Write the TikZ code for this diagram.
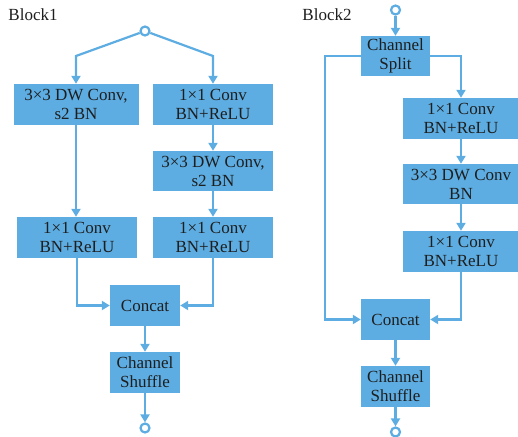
\documentclass[tikz,border=0pt]{standalone}
\usepackage{fontspec}
\setmainfont{Liberation Serif}
\usetikzlibrary{arrows.meta}
\definecolor{boxblue}{RGB}{93,173,226}
\definecolor{txt}{RGB}{30,30,30}
\begin{document}
\begin{tikzpicture}[x=1pt,y=-1pt,
  blk/.style={fill=boxblue,text=txt,inner sep=0pt,align=center,
    font=\fontsize{17}{19}\selectfont},
  port/.style={circle,draw=boxblue,line width=2.2pt,fill=white,inner sep=0pt,minimum size=9pt},
  conn/.style={draw=boxblue,line width=2.2pt},
  arr/.style={conn,-{Triangle[length=8pt,width=9pt]}},
  lbl/.style={text=txt,font=\fontsize{17}{19}\selectfont,inner sep=0pt}]
\useasboundingbox (0,0) rectangle (518,436);
% Block1
\node[lbl] (t1) at (33,15) {Block1};
\node[port] (in1) at (145,31) {};
\node[blk,minimum width=125pt,minimum height=41pt] (L1) at (76,104.5) {3×3 DW Conv,\\s2 BN};
\node[blk,minimum width=120pt,minimum height=41pt] (R1) at (213,104.5) {1×1 Conv\\BN+ReLU};
\node[blk,minimum width=120pt,minimum height=40pt] (R2) at (213,171) {3×3 DW Conv,\\s2 BN};
\node[blk,minimum width=120pt,minimum height=41pt] (L2) at (77,237.5) {1×1 Conv\\BN+ReLU};
\node[blk,minimum width=120pt,minimum height=41pt] (R3) at (213,237.5) {1×1 Conv\\BN+ReLU};
\node[blk,minimum width=70pt,minimum height=41pt] (C1) at (145,305.5) {Concat};
\node[blk,minimum width=70pt,minimum height=41pt] (S1) at (145,372.5) {Channel\\Shuffle};
\node[port] (out1) at (145,428) {};
\coordinate (a1) at (76,56);
\coordinate (a2) at (213,56);
\draw[arr] (in1) -- (a1) -- (L1.north);
\draw[arr] (in1) -- (a2) -- (R1.north);
\draw[arr] (R1) -- (R2);
\draw[arr] (R2) -- (R3);
\draw[arr] (L1.south) -- (L1.south |- L2.north);
\draw[arr] (L2.south) |- (C1.west);
\draw[arr] (R3.south) |- (C1.east);
\draw[arr] (C1) -- (S1);
\draw[arr] (S1) -- (out1);
% Block2
\node[lbl] (t2) at (327,15) {Block2};
\node[port] (in2) at (395.5,10) {};
\node[blk,minimum width=69pt,minimum height=40pt] (SP) at (395.5,56) {Channel\\Split};
\node[blk,minimum width=116pt,minimum height=41pt] (B1) at (461,118.5) {1×1 Conv\\BN+ReLU};
\node[blk,minimum width=116pt,minimum height=40pt] (B2) at (461,184) {3×3 DW Conv\\BN};
\node[blk,minimum width=116pt,minimum height=41pt] (B3) at (461,251.5) {1×1 Conv\\BN+ReLU};
\node[blk,minimum width=69pt,minimum height=41pt] (C2) at (395.5,319.5) {Concat};
\node[blk,minimum width=69pt,minimum height=41pt] (S2) at (395.5,386.5) {Channel\\Shuffle};
\node[port] (out2) at (395.5,432) {};
\coordinate (b1) at (325,56);
\draw[arr] (in2) -- (SP);
\draw[arr] (SP.west) -- (b1) |- (C2.west);
\draw[arr] (SP.east) -| (B1.north);
\draw[arr] (B1) -- (B2);
\draw[arr] (B2) -- (B3);
\draw[arr] (B3.south) |- (C2.east);
\draw[arr] (C2) -- (S2);
\draw[arr] (S2) -- (out2);
\end{tikzpicture}
\end{document}
